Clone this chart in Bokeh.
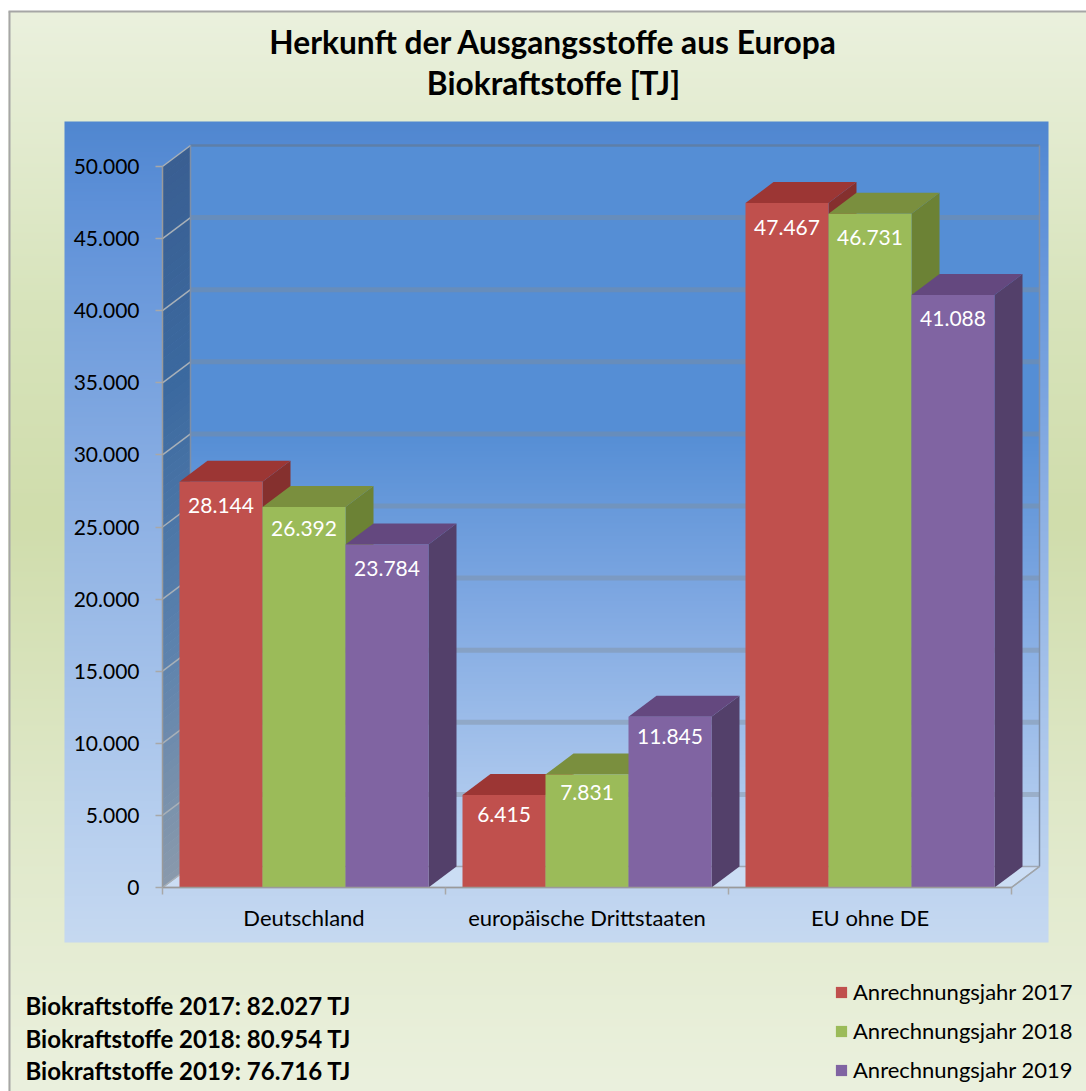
import numpy as np
from bokeh.plotting import figure
from bokeh.embed import file_html
from bokeh.resources import INLINE
from bokeh.core.properties import value
from bokeh.models import LinearAxis, FixedTicker, Legend, LegendItem

title_lines = ["Herkunft der Ausgangsstoffe aus Europa", "Biokraftstoffe [TJ]"]
categories = ["Deutschland", "europäische Drittstaaten", "EU ohne DE"]
series_names = ["Anrechnungsjahr 2017", "Anrechnungsjahr 2018", "Anrechnungsjahr 2019"]
values_2017 = [28144, 6415, 47467]
values_2018 = [26392, 7831, 46731]
values_2019 = [23784, 11845, 41088]
y_ticks = [0, 5000, 10000, 15000, 20000, 25000, 30000, 35000, 40000, 45000, 50000]
y_tick_labels = ["0", "5.000", "10.000", "15.000", "20.000", "25.000", "30.000", "35.000", "40.000", "45.000", "50.000"]
summary_lines = ["Biokraftstoffe 2017: 82.027 TJ", "Biokraftstoffe 2018: 80.954 TJ", "Biokraftstoffe 2019: 76.716 TJ"]

FRONT = ["#C0504D", "#9BBB59", "#8064A2"]
TOP = ["#9C3634", "#7A8F3E", "#64487F"]
SIDE = ["#85302E", "#6C8235", "#53406A"]
LABEL_DROP = [[24, 19.5, 24], [21.6, 18, 23.7], [24, 20, 23.5]]
FONT = "Lato"

# pixel layout of the drawing
W, H = 1086, 1091
PX0, PY0 = 0, 0
AX_L, AX_R = 162.0, 1011.0
Y_ZERO, Y_TOP = 887.0, 166.0
DX, DY = 28.0, 21.0
ux = (AX_R - AX_L) / 3.0
uy = (Y_ZERO - Y_TOP) / 50000.0

def X(px):
    return (np.asarray(px, dtype=float) - AX_L) / ux

def Y(py):
    return (Y_ZERO - np.asarray(py, dtype=float)) / uy

p = figure(width=W, height=H, output_backend="svg", toolbar_location=None,
           x_range=(float(X(PX0)), float(X(PX0 + W))),
           y_range=(float(Y(PY0 + H)), float(Y(PY0))),
           x_axis_type=None, y_axis_type=None, min_border=0,
           min_border_left=0, min_border_right=0, min_border_top=0, min_border_bottom=0)
p.grid.visible = False
p.outline_line_color = None
p.background_fill_color = "white"
p.border_fill_color = "white"

def hex2rgb(c):
    return np.array([int(c[i:i + 2], 16) for i in (1, 3, 5)], dtype=float)

def ramp(stops, py):
    pos = [s[0] for s in stops]
    cols = np.array([hex2rgb(s[1]) for s in stops])
    return np.stack([np.interp(py, pos, cols[:, k]) for k in range(3)], axis=-1)

def gradient(x0, x1, y0, y1, stops, level="underlay"):
    rows = np.arange(int(y1 - y0)) + y0 + 0.5
    rgb = ramp(stops, rows)[::-1]
    img = np.zeros((len(rows), 1), dtype=np.uint32)
    view = img.view(dtype=np.uint8).reshape((len(rows), 1, 4))
    view[:, :, :3] = rgb[:, None, :].astype(np.uint8)
    view[:, :, 3] = 255
    p.image_rgba(image=[img], x=[float(X(x0))], y=[float(Y(y1))],
                 dw=[float(X(x1) - X(x0))], dh=[float(Y(y0) - Y(y1))], level=level)

# outer card, panel, back wall
gradient(8, 1086, 11, 1091, [(11, "#EBF1DE"), (300, "#D8E4BC"), (520, "#D0DDAC"), (800, "#DFE8C8"), (1091, "#EBF1DE")])
p.segment(x0=[float(X(9))], y0=[float(Y(11))], x1=[float(X(9))], y1=[float(Y(1091))], line_color="#A6A6A6", line_width=2, level="underlay")
p.segment(x0=[float(X(8))], y0=[float(Y(11))], x1=[float(X(1086))], y1=[float(Y(11))], line_color="#A6A6A6", line_width=2, level="underlay")
gradient(64, 1048, 121, 942, [(121, "#5087D0"), (200, "#5D90D8"), (500, "#8CB0E4"), (800, "#B4CDEE"), (942, "#C6D9F1")])
gradient(AX_L + DX, AX_R + DX, Y_TOP - DY, Y_ZERO - DY,
         [(145, "#558ED5"), (430, "#558ED5"), (600, "#7FA8E2"), (866, "#BFD5F2")])

# floor
p.patch(X([AX_L, AX_R, AX_R + DX, AX_L + DX]), Y([Y_ZERO, Y_ZERO, Y_ZERO - DY, Y_ZERO - DY]),
        fill_color="#CBDDF4", line_color="#A0A8B4", line_width=1.5, level="underlay")

# left side wall (darkening gradient)
n = 90
edges = np.linspace(Y_TOP, Y_ZERO, n + 1)
cols = ramp([(166, "#3A5F92"), (400, "#3C6AA0"), (650, "#5C82AE"), (887, "#8A9AAC")], (edges[:-1] + edges[1:]) / 2)
wx, wy, wc = [], [], []
for i in range(n):
    t0, t1 = edges[i], min(edges[i + 1] + 0.6, Y_ZERO)
    wx.append(X([AX_L, AX_L + DX, AX_L + DX, AX_L]))
    wy.append(Y([t0, t0 - DY, t1 - DY, t1]))
    wc.append("#%02X%02X%02X" % tuple(int(v) for v in cols[i]))
p.patches(wx, wy, fill_color=wc, line_color=None, level="underlay")

# gridlines on the back wall and on the side wall
dxu = float(X(AX_L + DX) - X(AX_L))
dyu = DY / uy
grid_t = [t for t in y_ticks if 0 < t < 50000]
p.segment(x0=[dxu] * len(grid_t), y0=[t + dyu for t in grid_t], x1=[3 + dxu] * len(grid_t), y1=[t + dyu for t in grid_t],
          line_color="#808C98", line_width=5, line_alpha=0.42, level="underlay")
p.segment(x0=[dxu], y0=[50000 + dyu], x1=[3 + dxu], y1=[50000 + dyu],
          line_color="#5E7FA8", line_width=2.5, level="underlay")
p.segment(x0=[0] * len(y_ticks), y0=y_ticks, x1=[dxu] * len(y_ticks), y1=[t + dyu for t in y_ticks],
          line_color="#A8B0B8", line_width=1.5, level="underlay")
p.segment(x0=[dxu, 3 + dxu], y0=[dyu, dyu], x1=[dxu, 3 + dxu], y1=[50000 + dyu, 50000 + dyu],
          line_color="#7F8FA6", line_width=1.5, level="underlay")
p.segment(x0=[3], y0=[0], x1=[3 + dxu], y1=[dyu], line_color="#A0A4A8", line_width=1.5, level="underlay")

# bars
BAR = 83.0 / ux
GAP = 17.0 / ux
series = [values_2017, values_2018, values_2019]
legend_items = []
for gi in range(3):
    for si in range(3):
        v = series[si][gi]
        l = gi + GAP + si * BAR
        r = l + BAR
        p.patch([r, r + dxu, r + dxu, r], [0, dyu, v + dyu, v], fill_color=SIDE[si], line_color=None)
        p.patch([l, r, r + dxu, l + dxu], [v, v, v + dyu, v + dyu], fill_color=TOP[si], line_color=None)
        q = p.quad(left=[l], right=[r], bottom=[0], top=[v], fill_color=FRONT[si], line_color=None)
        p.text(x=[(l + r) / 2], y=[v], text=[f"{v:,}".replace(",", ".")], y_offset=[LABEL_DROP[si][gi]],
               text_color="white", text_align="center", text_baseline="middle",
               text_font=value(FONT), text_font_size="21px")
        if gi == 0:
            legend_items.append(LegendItem(label=series_names[si], renderers=[q]))

# axes
yax = LinearAxis(fixed_location=0, ticker=FixedTicker(ticks=y_ticks), bounds=(0, 50000),
                 major_label_overrides={t: s for t, s in zip(y_ticks, y_tick_labels)})
yax.axis_line_color = "#9A9A9A"
yax.axis_line_width = 1.5
yax.major_tick_line_color = "#A8A8A8"
yax.major_tick_line_width = 1.5
yax.major_tick_in = 0
yax.major_tick_out = 7
yax.minor_tick_line_color = None
yax.major_label_text_font = FONT
yax.major_label_text_font_size = "21px"
yax.major_label_text_color = "black"
yax.major_label_standoff = 16
p.add_layout(yax, "left")

xax = LinearAxis(fixed_location=0, ticker=FixedTicker(ticks=[0.5, 1.5, 2.5], minor_ticks=[0, 1, 2, 3]), bounds=(0, 3),
                 major_label_overrides={0.5: categories[0], 1.5: categories[1], 2.5: categories[2]})
xax.axis_line_color = "#9A9A9A"
xax.axis_line_width = 1.5
xax.major_tick_line_color = None
xax.major_tick_in = 0
xax.major_tick_out = 0
xax.minor_tick_line_color = "#A8A8A8"
xax.minor_tick_line_width = 1.5
xax.minor_tick_in = 0
xax.minor_tick_out = 7
xax.major_label_text_font = FONT
xax.major_label_text_font_size = "22px"
xax.major_label_text_color = "black"
xax.major_label_standoff = 9
p.add_layout(xax, "below")

# titles and summary
p.text(x=[float(X(553))] * 2, y=[float(Y(41)), float(Y(82))], text=title_lines, text_align="center", text_baseline="middle",
       text_color="black", text_font=value(FONT), text_font_style="bold", text_font_size="31.7px")
p.text(x=[float(X(25))] * 3, y=[float(Y(1005)), float(Y(1038)), float(Y(1070))], text=summary_lines, text_align="left", text_baseline="middle",
       text_color="black", text_font=value(FONT), text_font_style="bold", text_font_size="24px")

# legend
legend = Legend(items=legend_items, location=(834, 8), glyph_width=14, glyph_height=14, label_standoff=5,
                spacing=12, padding=0, margin=0, background_fill_alpha=0, border_line_color=None,
                label_text_font=FONT, label_text_font_size="22px", label_text_color="black",
                label_height=15)
p.add_layout(legend, "center")

open("out.html", "w").write(file_html(p, INLINE))
